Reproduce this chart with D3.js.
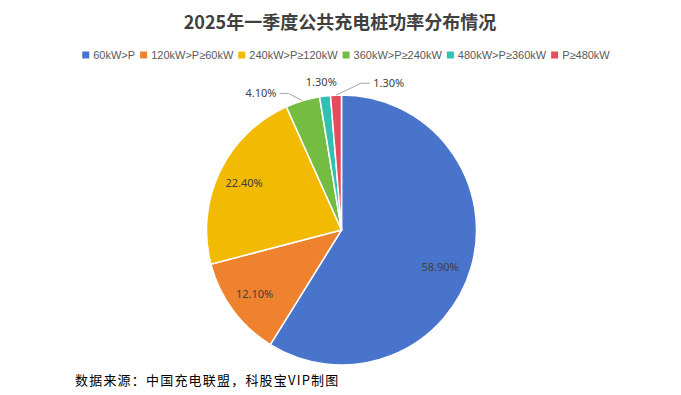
<!DOCTYPE html>
<html>
<head>
<meta charset="utf-8">
<script src="https://cdn.jsdelivr.net/npm/d3@7"></script>
<style>
  html, body { margin: 0; padding: 0; background: #fff; }
  svg { display: block; }
</style>
</head>
<body>
<svg id="chart" width="681" height="395"></svg>
<script>
const title = "2025年一季度公共充电桩功率分布情况";
const source = "数据来源：中国充电联盟，科股宝VIP制图";
const categories = ["60kW>P", "120kW>P≥60kW", "240kW>P≥120kW", "360kW>P≥240kW", "480kW>P≥360kW", "P≥480kW"];
const values = [58.9, 12.1, 22.4, 4.1, 1.3, 1.3];
const labels = ["58.90%", "12.10%", "22.40%", "4.10%", "1.30%", "1.30%"];
const colors = ["#4874CB", "#EE822F", "#F2BA02", "#75BD42", "#30C0B4", "#E54C5E"];

const svg = d3.select("#chart");
const W = 681, H = 395;
const cx = 341.5, cy = 230, R = 135;
const FONT = "'Microsoft YaHei', 'Noto Sans CJK SC', 'Noto Sans', sans-serif";
const LFONT = "'Noto Sans', 'DejaVu Sans', sans-serif";
const GFONT = "'Liberation Sans', 'DejaVu Sans', sans-serif";

// Title
svg.append("text")
  .attr("x", 340).attr("y", 29)
  .attr("text-anchor", "middle")
  .attr("font-family", FONT)
  .attr("font-weight", "bold")
  .attr("font-size", 18)
  .attr("fill", "#404040")
  .text(title);

// Legend
const legend = svg.append("g");
let lx = 0;
categories.forEach((c, i) => {
  const g = legend.append("g").attr("transform", `translate(${lx},0)`);
  g.append("rect").attr("x", 0).attr("y", -3.5).attr("width", 7).attr("height", 7).attr("fill", colors[i]);
  const t = g.append("text").attr("x", 11).attr("y", 4)
    .attr("font-family", GFONT).attr("font-size", 11).attr("fill", "#595959").text(c);
  lx += 11 + t.node().getComputedTextLength() + 5;
});
const legendW = lx - 5;
legend.attr("transform", `translate(${346 - legendW / 2},55)`);

// Pie
const pie = d3.pie().sort(null).value(d => d).startAngle(0).endAngle(2 * Math.PI);
const arcs = pie(values);
const arc = d3.arc().innerRadius(0).outerRadius(R);
const g = svg.append("g").attr("transform", `translate(${cx},${cy})`);

g.selectAll("path.slice").data(arcs).enter().append("path")
  .attr("class", "slice")
  .attr("d", arc)
  .attr("fill", (d, i) => colors[i])
  .attr("stroke", "#fff")
  .attr("stroke-width", 1.5);

const polar = (r, a) => [r * Math.sin(a), -r * Math.cos(a)];
const mid = d => (d.startAngle + d.endAngle) / 2;
const deg = Math.PI / 180;

arcs.forEach((d, i) => {
  const m = mid(d);
  if (values[i] >= 10) {
    const [x, y] = polar(R * 0.8, m + (i === 0 ? 4 * deg : 0));
    g.append("text").attr("x", x - (i === 0 ? 3 : 0)).attr("y", y + 4)
      .attr("text-anchor", "middle")
      .attr("font-family", LFONT).attr("font-size", 11).attr("fill", "#404040")
      .text(labels[i]);
  }
});

// Outer labels for small slices
const lineColor = "#A6A6A6";
function outer(i, elbowR, elbowDelta, side) {
  const d = arcs[i];
  const m = mid(d);
  const [ax, ay] = polar(R, m);
  const [ex, ey] = polar(elbowR, m + elbowDelta * deg);
  const hx = ex + side * 9;
  g.append("polyline")
    .attr("points", [[ax, ay], [ex, ey], [hx, ey]].map(p => p.join(",")).join(" "))
    .attr("fill", "none").attr("stroke", lineColor).attr("stroke-width", 1);
  g.append("text").attr("x", hx + side * 3).attr("y", ey + 4)
    .attr("text-anchor", side < 0 ? "end" : "start")
    .attr("font-family", LFONT).attr("font-size", 11).attr("fill", "#404040")
    .text(labels[i]);
}
outer(3, R * 1.085, -4.5, -1);
outer(5, R * 1.097, 10, 1);
{
  const [x, y] = polar(R * 1.105, mid(arcs[4]));
  g.append("text").attr("x", x - 2).attr("y", y + 4)
    .attr("text-anchor", "middle")
    .attr("font-family", LFONT).attr("font-size", 11).attr("fill", "#404040")
    .text(labels[4]);
}

// Source
svg.append("text")
  .attr("x", 75).attr("y", 385)
  .attr("font-family", FONT).attr("font-size", 13).attr("fill", "#000")
  .attr("letter-spacing", 1.2)
  .text(source);
</script>
</body>
</html>
